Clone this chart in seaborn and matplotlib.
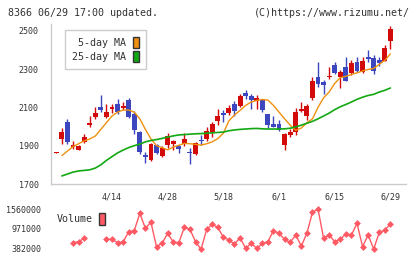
import matplotlib
matplotlib.use("Agg")
import matplotlib.pyplot as plt
from matplotlib.patches import Patch
import numpy as np
import pandas as pd
import seaborn as sns

# daily candles, index 0 = 3/31 ... 60 = 6/29
opens  = [1863, 1934, 2022, 1894, 1879, 1917, 2008, 2048, 2100, 2050,
          2091, 2119, 2099, 2136, 2064, 1972, 1851, 1825, 1901, 1847,
          1903, 1910, 1898, 1908, 1867, 1856, 1929, 1936, 1967, 2029,
          2069, 2071, 2119, 2107, 2177, 2159, 2131, 2136, 2065, 2014,
          2012, 1903, 1955, 1972, 2081, 2055, 2149, 2261, 2230, 2258,
          2323, 2258, 2308, 2279, 2336, 2284, 2365, 2356, 2349, 2344, 2448]
closes = [1863, 1969, 1919, 1903, 1899, 1944, 2019, 2071, 2086, 2074,
          2100, 2074, 2107, 2050, 1981, 1868, 1843, 1908, 1863, 1886,
          1949, 1924, 1884, 1934, 1862, 1915, 1922, 1976, 2014, 2053,
          2061, 2095, 2081, 2157, 2159, 2138, 2147, 2084, 2007, 1998,
          1984, 1960, 1972, 2074, 2092, 2106, 2235, 2223, 2218, 2266,
          2280, 2284, 2240, 2329, 2289, 2344, 2351, 2292, 2330, 2412, 2510]
highs  = [1865, 1990, 2038, 1927, 1905, 1960, 2053, 2102, 2163, 2115,
          2115, 2143, 2130, 2150, 2080, 1978, 1868, 1915, 1908, 1896,
          1967, 1932, 1906, 1967, 1889, 1919, 1955, 1995, 2026, 2090,
          2084, 2111, 2131, 2170, 2188, 2172, 2167, 2143, 2066, 2053,
          2033, 1964, 1986, 2095, 2126, 2117, 2261, 2339, 2244, 2310,
          2339, 2296, 2365, 2349, 2365, 2365, 2400, 2375, 2365, 2424, 2526]
lows   = [1861, 1907, 1907, 1882, 1877, 1914, 1998, 2040, 2076, 2045,
          2068, 2064, 2085, 2045, 1962, 1856, 1811, 1820, 1856, 1843,
          1886, 1876, 1863, 1898, 1804, 1852, 1903, 1925, 1946, 2008,
          2022, 2062, 2053, 2102, 2145, 2090, 2091, 2074, 1990, 1996,
          1978, 1877, 1943, 1958, 2074, 2034, 2136, 2206, 2171, 2246,
          2275, 2201, 2235, 2271, 2284, 2278, 2336, 2275, 2318, 2342, 2407]

ma5 = [np.nan, 1848, 1872, 1895, 1910, 1925, 1935, 1950, 1985, 2020,
       2055, 2075, 2086, 2086, 2075, 2040, 1985, 1935, 1900, 1890,
       1878, 1893, 1902, 1912, 1910, 1907, 1903, 1910, 1920, 1937,
       1965, 2030, 2060, 2084, 2110, 2128, 2136, 2141, 2138, 2110,
       2075, 2040, 2007, 1980, 1992, 2020, 2040, 2100, 2150, 2180,
       2225, 2255, 2262, 2272, 2280, 2290, 2298, 2303, 2325, 2345, 2379]
ma25 = [np.nan, 1742, 1752, 1762, 1768, 1771, 1774, 1783, 1800, 1823,
        1843, 1862, 1877, 1890, 1900, 1908, 1920, 1927, 1932, 1938,
        1945, 1951, 1956, 1958, 1960, 1962, 1963, 1965, 1967, 1969,
        1971, 1978, 1982, 1985, 1987, 1989, 1990, 1988, 1987, 1987,
        1987, 1988, 1991, 1998, 2007, 2017, 2027, 2040, 2055, 2070,
        2088, 2103, 2115, 2128, 2142, 2153, 2162, 2168, 2180, 2189, 2201]

# volume (values under the legend box are not readable -> NaN)
volume = [np.nan, np.nan, np.nan, 568500, 598000, 696000, np.nan, np.nan, np.nan, 667000,
          667000, 568500, 588000, 892000, 922000, 1432000, 991000, 1167000, 451000, 549000,
          843000, 588000, 568500, 1020000, 961000, 598000, 372000, 961000, 1108000, 1020000,
          726000, 647000, 529000, 716000, 402000, 549000, 402000, 549000, 598000, 922000,
          843000, 667000, 578000, 794000, 470000, 843000, 1462000, 1560000, 696000, 794000,
          598000, 667000, 824000, 794000, 1138000, 451000, 794000, 382000, 873000, 942000, 1118000]

date_pos = [10, 20, 30, 40, 50, 60]
date_labels = ["4/14", "4/28", "5/18", "6/1", "6/15", "6/29"]
price_ticks = [1700, 1900, 2100, 2300, 2500]
vol_ticks = [382000, 971000, 1560000]

df = pd.DataFrame({"i": np.arange(len(opens)), "open": opens, "close": closes,
                   "high": highs, "low": lows, "ma5": ma5, "ma25": ma25, "volume": volume})

sns.set_style("white")
plt.rcParams["font.family"] = ["DejaVu Sans Mono", "DejaVu Sans"]

RED = "#d20a0a"
BLUE = "#3c46be"
ORANGE = "#f0900f"
GREEN = "#12a812"
VOLC = "#ff5a64"
GRAY = "#cccccc"
TXT = "#333333"

W, H = 420, 259
fig = plt.figure(figsize=(W / 100, H / 100), dpi=100)
ax = fig.add_axes([51 / W, 1 - 184 / H, 355 / W, 160 / H])
vax = fig.add_axes([51 / W, 1 - 253 / H, 355 / W, 48 / H])

xmin, xmax = -0.95, 62.8

# candles
up = df["close"] >= df["open"]
cols = np.where(up, RED, BLUE)
ax.vlines(df["i"], df["low"], df["high"], colors=cols, linewidth=1, zorder=2)
body_lo = np.minimum(df["open"], df["close"])
body_h = np.maximum(np.abs(df["close"] - df["open"]), 4)
ax.bar(df["i"], body_h, bottom=body_lo, width=0.88, color=cols, linewidth=0, zorder=3)

sns.lineplot(data=df, x="i", y="ma5", ax=ax, color=ORANGE, linewidth=1, zorder=4)
sns.lineplot(data=df, x="i", y="ma25", ax=ax, color=GREEN, linewidth=1.2, zorder=4)

ax.set_xlim(xmin, xmax)
ax.set_ylim(1700, 2535)
ax.set_yticks(price_ticks)
ax.set_xticks(np.linspace(xmin, xmax, 12))
ax.set_xticklabels([])
ax.set_xticks(date_pos, date_labels, minor=True)
ax.set_xlabel("")
ax.set_ylabel("")
for s in ["top", "right"]:
    ax.spines[s].set_visible(False)
for s in ["left", "bottom"]:
    ax.spines[s].set_color(GRAY)
    ax.spines[s].set_linewidth(1)
ax.tick_params(axis="both", which="major", length=5, width=1, color=GRAY,
               labelsize=6, labelcolor=TXT, pad=4)
ax.tick_params(axis="x", which="minor", length=0, labelsize=6, labelcolor=TXT, pad=6)
ax.tick_params(axis="x", which="major", pad=1)

leg = ax.legend(handles=[Patch(facecolor=ORANGE, edgecolor="#333333", label=" 5-day MA"),
                         Patch(facecolor=GREEN, edgecolor="#333333", label="25-day MA")],
                loc="upper left", bbox_to_anchor=(65 / W, 1 - 30 / H),
                bbox_transform=fig.transFigure, borderaxespad=0,
                markerfirst=False, handlelength=0.6, handleheight=1.3,
                handletextpad=0.7, labelspacing=0.35, borderpad=0.7,
                fancybox=False, framealpha=1, edgecolor=GRAY,
                prop={"size": 7.2, "family": "DejaVu Sans Mono"})
leg.get_frame().set_linewidth(1)
for t in leg.get_texts():
    t.set_color(TXT)

# volume
seg1 = df[df["i"].between(3, 5)]
seg2 = df[df["i"] >= 9]
for seg in [seg1, seg2]:
    sns.lineplot(data=seg, x="i", y="volume", ax=vax, color=VOLC, linewidth=1,
                 marker="D", markersize=3.5, markeredgewidth=0, markerfacecolor=VOLC)
vax.set_xlim(xmin, xmax)
vax.set_ylim(264000, 1678000)
vax.set_yticks(vol_ticks)
vax.set_yticklabels([str(v) for v in vol_ticks])
vax.set_xticks([])
vax.set_xlabel("")
vax.set_ylabel("")
for s in vax.spines.values():
    s.set_visible(False)
vax.tick_params(axis="y", length=0, labelsize=6, labelcolor=TXT, pad=7)

vleg = vax.legend(handles=[Patch(facecolor=VOLC, edgecolor="#333333", label="Volume")],
                  loc="upper left", bbox_to_anchor=(55 / W, 1 - 211 / H),
                  bbox_transform=fig.transFigure, borderaxespad=0,
                  markerfirst=False, handlelength=0.6, handleheight=1.5,
                  handletextpad=0.6, borderpad=0.2, frameon=False,
                  prop={"size": 7.2, "family": "DejaVu Sans Mono"})
for t in vleg.get_texts():
    t.set_color(TXT)

fig.text(8 / W, 1 - 13 / H, "8366 06/29 17:00 updated.", fontsize=7.2, color=TXT,
         va="center", ha="left")
fig.text(410 / W, 1 - 13 / H, "(C)https://www.rizumu.net/", fontsize=7.2, color=TXT,
         va="center", ha="right")

fig.savefig("out.png", dpi=100, facecolor="white")
